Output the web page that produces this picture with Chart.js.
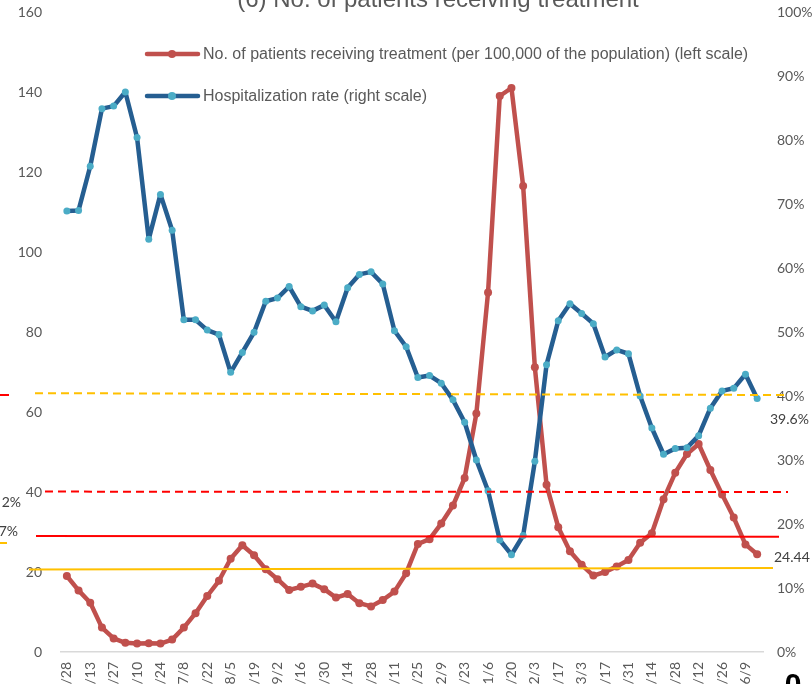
<!DOCTYPE html>
<html>
<head>
<meta charset="utf-8">
<script src="https://cdn.jsdelivr.net/npm/chart.js@4.4.1/dist/chart.umd.min.js"></script>
<style>
  html, body { margin: 0; padding: 0; overflow: hidden; background: #fff; }
  #wrap { position: absolute; left: 0; top: 0; width: 812px; height: 720px; }
</style>
</head>
<body>
<div id="wrap"><canvas id="chart" width="812" height="720"></canvas></div>
<script>
// ---------------- DATA ----------------

const chartTitle = '(6) No. of patients receiving treatment';

const weeks = [
  '4/28', '5/6', '5/13', '5/20', '5/27', '6/3', '6/10', '6/17', '6/24', '7/1',
  '7/8', '7/15', '7/22', '7/29', '8/5', '8/12', '8/19', '8/26', '9/2', '9/9',
  '9/16', '9/23', '9/30', '10/7', '10/14', '10/21', '10/28', '11/4', '11/11', '11/18',
  '11/25', '12/2', '12/9', '12/16', '12/23', '12/30', '1/6', '1/13', '1/20', '1/27',
  '2/3', '2/10', '2/17', '2/24', '3/3', '3/10', '3/17', '3/24', '3/31', '4/7',
  '4/14', '4/21', '4/28', '5/5', '5/12', '5/19', '5/26', '6/2', '6/9', '6/16'
];

// patients receiving treatment per 100,000 (left scale)
const patients = [
  19, 15.4, 12.3, 6.1, 3.4, 2.3, 2.1, 2.2, 2.1, 3.1,
  6.1, 9.7, 14, 17.8, 23.3, 26.7, 24.2, 20.7, 18.2, 15.5,
  16.3, 17.1, 15.7, 13.6, 14.5, 12.2, 11.4, 13, 15.1, 19.7,
  27, 28.2, 32.1, 36.6, 43.5, 59.6, 89.9, 139, 141, 116.5,
  71.2, 41.8, 31.2, 25.2, 21.8, 19.1, 20, 21.4, 23, 27.3,
  29.7, 38.2, 44.8, 49.5, 52, 45.5, 39.4, 33.6, 26.9, 24.44
];

// hospitalization rate in % (right scale)
const hospRate = [
  68.9, 69.0, 75.9, 84.9, 85.3, 87.5, 80.4, 64.5, 71.5, 65.9,
  51.9, 51.9, 50.3, 49.6, 43.7, 46.8, 49.95, 54.8, 55.3, 57.1,
  53.95, 53.3, 54.2, 51.6, 56.9, 59.0, 59.4, 57.5, 50.2, 47.7,
  42.9, 43.2, 42, 39.4, 35.9, 30, 25.2, 17.5, 15.2, 18.2,
  29.8, 44.9, 51.75, 54.4, 52.9, 51.3, 46.1, 47.2, 46.6, 40,
  35, 30.9, 31.8, 31.9, 33.8, 38.1, 40.8, 41.2, 43.4, 39.6
];

const leftTicks = [0, 20, 40, 60, 80, 100, 120, 140, 160];
const rightTicks = [0, 10, 20, 30, 40, 50, 60, 70, 80, 90, 100];

// pasted reference lines, value on the left scale at their left and right ends
const refLineStart = [64.7, 40.1, 29.0, 20.6];
const refLineEnd = [64.25, 40.0, 28.8, 21.0];

// cut-off labels of the neighbouring panel
const sideTexts = ['2%', '7%'];

// ---------------- PLUGIN: overlays ----------------

const overlayPlugin = {
  id: 'overlay',
  afterDatasetsDraw(chart) {
    const ctx = chart.ctx;
    const yl = chart.scales.y;
    const spans = [[35, 787], [45, 788], [36, 779], [29, 773]];
    const colors = ['#FFC000', '#FF0000', '#FF0000', '#FFC000'];
    const dashes = [[8, 5], [8, 5], [], []];
    ctx.save();
    ctx.lineWidth = 2;
    refLineStart.forEach((v, i) => {
      ctx.strokeStyle = colors[i];
      ctx.setLineDash(dashes[i]);
      ctx.beginPath();
      ctx.moveTo(spans[i][0], yl.getPixelForValue(v));
      ctx.lineTo(spans[i][1], yl.getPixelForValue(refLineEnd[i]));
      ctx.stroke();
    });
    ctx.setLineDash([]);
    // pieces of the panel on the left
    ctx.strokeStyle = '#FF0000';
    ctx.beginPath(); ctx.moveTo(0, 395); ctx.lineTo(9, 395); ctx.stroke();
    ctx.strokeStyle = '#FFC000';
    ctx.beginPath(); ctx.moveTo(0, 543); ctx.lineTo(7, 543); ctx.stroke();
    ctx.restore();
  },
  afterDraw(chart) {
    const ctx = chart.ctx;
    const yl = chart.scales.y;
    const yr = chart.scales.y1;
    ctx.save();

    // title (cut at the top of the picture)
    ctx.fillStyle = '#595959';
    ctx.font = '24px "Liberation Sans", Arial, sans-serif';
    ctx.textAlign = 'center';
    ctx.textBaseline = 'alphabetic';
    ctx.fillText(chartTitle, 438, 7);

    // legend inside the plot
    const rows = [54, 96];
    const markerFill = ['#C0504D', '#4BACC6'];
    chart.data.datasets.forEach((ds, i) => {
      const y = rows[i];
      ctx.strokeStyle = ds.borderColor;
      ctx.lineWidth = 4.5;
      ctx.lineCap = 'round';
      ctx.beginPath(); ctx.moveTo(147, y); ctx.lineTo(198, y); ctx.stroke();
      ctx.fillStyle = markerFill[i];
      ctx.beginPath(); ctx.arc(172, y, 4, 0, Math.PI * 2); ctx.fill();
      ctx.fillStyle = '#595959';
      ctx.font = '16px "Liberation Sans", Arial, sans-serif';
      ctx.textAlign = 'left';
      ctx.textBaseline = 'middle';
      ctx.fillText(ds.label, 203, y + 1);
    });

    // end value labels
    ctx.fillStyle = '#404040';
    ctx.font = '14px Lato, sans-serif';
    ctx.textAlign = 'left';
    ctx.textBaseline = 'middle';
    const lastRate = hospRate[hospRate.length - 1];
    const lastPat = patients[patients.length - 1];
    ctx.fillText(lastRate.toFixed(1) + '%', 770, yr.getPixelForValue(lastRate) + 21);
    ctx.fillText(lastPat.toFixed(2), 774, yl.getPixelForValue(lastPat) + 3);

    // cut labels from the left panel
    ctx.textAlign = 'right';
    ctx.fillText(sideTexts[0], 21, 502);
    ctx.fillText(sideTexts[1], 18, 531);

    // big character from the panel below
    ctx.fillStyle = '#000';
    ctx.font = 'bold 30px "Liberation Sans", Arial, sans-serif';
    ctx.textAlign = 'center';
    ctx.textBaseline = 'alphabetic';
    ctx.fillText('0', 793, 694);

    ctx.restore();
  }
};

// ---------------- CHART ----------------

const tickFont = { family: 'Lato', size: 14 };

// fixed axis widths so the plot area sits where the original one does
function fixWidth(w) {
  return scale => {
    scale.width = w;
    scale.paddingTop = 0;
    scale.paddingBottom = 0;
  };
}

new Chart(document.getElementById('chart'), {
  type: 'line',
  data: {
    labels: weeks,
    datasets: [
      {
        label: 'No. of patients receiving treatment (per 100,000 of the population) (left scale)',
        data: patients,
        yAxisID: 'y',
        borderColor: '#C0504D',
        backgroundColor: '#C0504D',
        borderWidth: 4.5,
        pointRadius: 4,
        pointBorderWidth: 0,
        pointBackgroundColor: '#C0504D',
        borderJoinStyle: 'round',
        borderCapStyle: 'round',
        tension: 0,
        order: 1
      },
      {
        label: 'Hospitalization rate (right scale)',
        data: hospRate,
        yAxisID: 'y1',
        borderColor: '#255E91',
        backgroundColor: '#4BACC6',
        borderWidth: 4.5,
        pointRadius: 3.5,
        pointBorderWidth: 0,
        pointBackgroundColor: '#4BACC6',
        borderJoinStyle: 'round',
        borderCapStyle: 'round',
        tension: 0,
        order: 0
      }
    ]
  },
  options: {
    responsive: false,
    animation: false,
    layout: { padding: { top: 12, left: 0, right: 0, bottom: 0 } },
    plugins: {
      legend: { display: false },
      title: { display: false },
      tooltip: { enabled: false }
    },
    scales: {
      x: {
        offset: true,
        grid: { display: false },
        border: { display: true, color: '#D9D9D9', width: 1.5 },
        ticks: {
          autoSkip: false,
          minRotation: 90,
          maxRotation: 90,
          padding: 2,
          color: '#595959',
          font: tickFont,
          callback(value, index) {
            return index % 2 === 0 ? this.getLabelForValue(value) : '';
          }
        },
        afterFit(scale) { scale.height = 68; }
      },
      y: {
        position: 'left',
        min: leftTicks[0],
        max: leftTicks[leftTicks.length - 1],
        grid: { display: false },
        border: { display: false },
        afterBuildTicks(scale) { scale.ticks = leftTicks.map(v => ({ value: v })); },
        ticks: { padding: 11, color: '#595959', font: tickFont },
        afterFit: fixWidth(61)
      },
      y1: {
        position: 'right',
        min: rightTicks[0],
        max: rightTicks[rightTicks.length - 1],
        grid: { display: false },
        border: { display: false },
        afterBuildTicks(scale) { scale.ticks = rightTicks.map(v => ({ value: v })); },
        ticks: { padding: 6, color: '#595959', font: tickFont, callback: v => v + '%' },
        afterFit: fixWidth(49)
      }
    }
  },
  plugins: [overlayPlugin]
});
</script>
</body>
</html>
